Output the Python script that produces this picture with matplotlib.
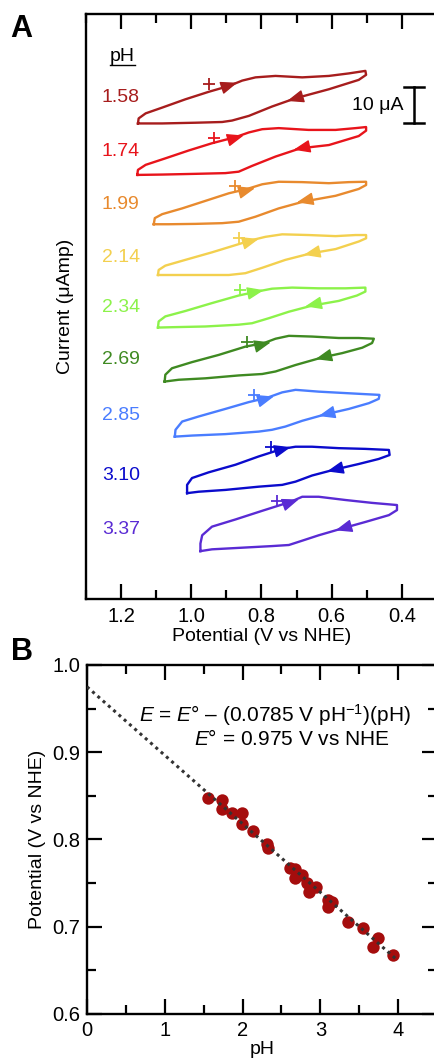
import matplotlib.pyplot as plt
import numpy as np
from matplotlib.ticker import MultipleLocator, FormatStrFormatter

plt.rcParams['font.family'] = ['Liberation Sans', 'DejaVu Sans']
plt.rcParams['mathtext.fontset'] = 'custom'
plt.rcParams['mathtext.rm'] = 'Liberation Sans'
plt.rcParams['mathtext.it'] = 'Liberation Sans:italic'

# ---- panel A: cyclic voltammograms ----
# potential (V vs NHE) and current (uA) measured from the lower-left corner of each loop
ph_values = ['1.58', '1.74', '1.99', '2.14', '2.34', '2.69', '2.85', '3.10', '3.37']
cv_colors = ['#a71d1d', '#e8141b', '#e88a2e', '#f3d04f', '#8cf24a',
             '#3f8a22', '#4a7dff', '#0b0bcc', '#5a2bd4']
cv_offsets = [132.1, 117.8, 104.1, 90.0, 75.4, 60.4, 45.1, 29.4, 13.3]
label_currents = [139.4, 124.2, 109.7, 95.0, 81.1, 66.4, 51.1, 34.4, 19.2]

e_158 = [1.152, 1.150, 1.130, 1.083, 1.017, 0.950, 0.893, 0.855, 0.817, 0.760, 0.684, 0.608, 0.551, 0.504,
         0.502, 0.523, 0.608, 0.703, 0.770, 0.836, 0.884, 0.912, 0.988, 1.083, 1.152]
i_158 = [0.0, 1.4, 2.8, 4.4, 6.7, 8.8, 10.4, 11.9, 12.8, 13.2, 12.8, 13.2, 13.9, 14.6,
         13.5, 12.1, 9.5, 7.0, 4.7, 2.1, 0.8, 0.4, 0.2, 0.0, 0.0]
e_174 = [1.154, 1.152, 1.130, 1.074, 1.007, 0.941, 0.874, 0.836, 0.798, 0.751, 0.666, 0.589, 0.532, 0.502,
         0.502, 0.523, 0.608, 0.689, 0.760, 0.827, 0.865, 0.903, 0.988, 1.083, 1.154]
i_174 = [0.0, 1.4, 2.8, 4.6, 6.8, 8.8, 10.5, 11.8, 12.7, 13.0, 12.5, 12.5, 13.0, 13.3,
         12.3, 10.8, 8.3, 7.4, 5.1, 2.5, 0.9, 0.5, 0.3, 0.1, 0.0]
e_199 = [1.107, 1.104, 1.083, 1.026, 0.950, 0.893, 0.841, 0.798, 0.751, 0.684, 0.608, 0.551, 0.502,
         0.502, 0.523, 0.589, 0.680, 0.751, 0.817, 0.865, 0.912, 0.988, 1.064, 1.107]
i_199 = [0.0, 1.7, 2.8, 4.4, 6.8, 8.6, 9.8, 11.1, 11.8, 11.7, 11.4, 11.7, 11.8,
         10.9, 9.8, 7.9, 6.3, 4.4, 2.1, 0.7, 0.3, 0.1, 0.0, 0.0]
e_214 = [1.095, 1.093, 1.074, 1.017, 0.941, 0.874, 0.827, 0.789, 0.741, 0.665, 0.589, 0.532, 0.502,
         0.502, 0.523, 0.589, 0.660, 0.732, 0.798, 0.846, 0.893, 0.988, 1.095]
i_214 = [0.0, 1.4, 2.6, 4.2, 6.3, 8.3, 9.7, 10.6, 11.3, 11.1, 10.8, 11.1, 11.1,
         10.2, 9.3, 7.2, 6.0, 4.2, 2.0, 0.5, 0.0, 0.0, 0.0]
e_234 = [1.095, 1.093, 1.074, 1.017, 0.941, 0.865, 0.813, 0.770, 0.713, 0.637, 0.561, 0.504,
         0.504, 0.528, 0.580, 0.656, 0.722, 0.779, 0.827, 0.865, 0.960, 1.055, 1.095]
i_234 = [0.0, 1.7, 3.1, 4.6, 6.8, 8.9, 10.0, 10.8, 11.1, 10.9, 10.9, 11.1,
         10.0, 8.9, 7.4, 6.1, 4.4, 2.6, 1.2, 0.8, 0.3, 0.1, 0.0]
e_269 = [1.076, 1.074, 1.055, 0.998, 0.922, 0.846, 0.793, 0.760, 0.722, 0.656, 0.580, 0.523, 0.480,
         0.485, 0.513, 0.570, 0.627, 0.703, 0.760, 0.798, 0.865, 0.960, 1.036, 1.076]
i_269 = [0.0, 1.9, 3.7, 5.4, 7.4, 9.7, 10.7, 11.9, 12.7, 12.5, 12.1, 12.1, 11.9,
         10.7, 9.4, 7.9, 6.7, 4.6, 2.8, 2.1, 1.7, 0.9, 0.5, 0.0]
e_285 = [1.047, 1.045, 1.026, 0.979, 0.903, 0.836, 0.784, 0.741, 0.703, 0.637, 0.561, 0.504, 0.464,
         0.466, 0.494, 0.551, 0.618, 0.684, 0.732, 0.770, 0.808, 0.903, 0.998, 1.047]
i_285 = [0.0, 1.9, 4.2, 5.6, 7.7, 9.6, 10.8, 12.3, 13.0, 12.5, 12.1, 11.8, 11.6,
         10.5, 9.3, 7.7, 6.2, 4.4, 2.8, 1.9, 1.4, 0.7, 0.3, 0.0]
e_310 = [1.012, 1.012, 0.998, 0.950, 0.874, 0.808, 0.741, 0.703, 0.656, 0.580, 0.504, 0.437,
         0.435, 0.466, 0.523, 0.594, 0.656, 0.703, 0.741, 0.808, 0.903, 0.979, 1.012]
i_310 = [0.0, 2.3, 4.2, 5.8, 7.9, 10.2, 12.3, 12.9, 12.9, 12.5, 12.3, 12.0,
         10.6, 9.5, 8.1, 6.5, 4.9, 3.2, 2.3, 1.8, 0.9, 0.4, 0.0]
e_337 = [0.974, 0.974, 0.969, 0.941, 0.874, 0.798, 0.717, 0.684, 0.637, 0.561, 0.485, 0.414,
         0.414, 0.437, 0.504, 0.570, 0.637, 0.684, 0.722, 0.770, 0.846, 0.941, 0.974]
i_337 = [0.0, 2.1, 4.4, 6.8, 8.8, 11.2, 13.7, 15.1, 15.1, 14.2, 13.4, 12.8,
         11.4, 10.0, 8.1, 6.3, 4.4, 2.9, 1.7, 1.4, 1.0, 0.5, 0.0]

# "+" marks and scan-direction arrows (potential, relative current)
plus_e = [0.950, 0.936, 0.876, 0.865, 0.860, 0.841, 0.822, 0.774, 0.756]
plus_i = [11.0, 10.2, 10.7, 10.4, 10.5, 11.1, 11.6, 12.9, 14.0]
fwd_e = [0.888, 0.870, 0.838, 0.827, 0.813, 0.793, 0.784, 0.736, 0.713]
fwd_i = [10.7, 10.4, 9.5, 9.5, 10.0, 10.4, 10.6, 12.3, 13.7]
rev_e = [0.708, 0.689, 0.680, 0.660, 0.656, 0.627, 0.618, 0.594, 0.570]
rev_i = [6.8, 7.4, 6.5, 6.0, 6.3, 6.7, 6.2, 6.5, 6.3]

# ---- panel B: peak potential vs pH ----
ph_pts = [1.56, 1.73, 1.73, 1.86, 1.99, 1.99, 2.13, 2.31, 2.33, 2.61, 2.68, 2.68,
          2.76, 2.83, 2.85, 2.95, 3.10, 3.15, 3.10, 3.36, 3.55, 3.74, 3.68, 3.94]
e_pts = [0.848, 0.845, 0.835, 0.830, 0.830, 0.818, 0.810, 0.795, 0.790, 0.767, 0.766, 0.756,
         0.759, 0.750, 0.740, 0.746, 0.731, 0.728, 0.723, 0.706, 0.699, 0.687, 0.677, 0.668]
fit_ph = [0.0, 4.0]
fit_e = [0.975, 0.661]

cv_e = [e_158, e_174, e_199, e_214, e_234, e_269, e_285, e_310, e_337]
cv_i = [i_158, i_174, i_199, i_214, i_234, i_269, i_285, i_310, i_337]


def add_arrow(ax, e, i, pe, pi, color):
    # arrow head centred at (pe, pi), pointing along the scan direction of the loop
    pts = ax.transData.transform(np.column_stack([e, i]))
    p = ax.transData.transform((pe, pi))
    k = np.argmin(np.hypot(*(pts - p).T))
    d = pts[min(k + 1, len(e) - 1)] - pts[max(k - 1, 0)]
    d = d / np.hypot(*d)
    inv = ax.transData.inverted()
    ax.annotate('', xy=inv.transform(p + 7 * d), xytext=inv.transform(p - 5 * d),
                arrowprops=dict(arrowstyle='-|>,head_length=0.85,head_width=0.33',
                                color=color, lw=1.0, shrinkA=0, shrinkB=0,
                                mutation_scale=12))


fig = plt.figure(figsize=(4.35, 10.61), dpi=100)

# panel A
ax1 = fig.add_axes([86 / 435, 462 / 1061, 351 / 435, 585 / 1061])
ax1.set_xlim(1.3, 0.3)
ax1.set_ylim(0, 162.5)
for k in range(len(ph_values)):
    c = cv_colors[k]
    off = cv_offsets[k]
    ii = np.array(cv_i[k]) + off
    ax1.plot(cv_e[k], ii, color=c, lw=1.7, solid_joinstyle='round')
    ax1.plot(plus_e[k], plus_i[k] + off, marker='+', color=c, ms=8, mew=1.3)
    add_arrow(ax1, cv_e[k], ii, fwd_e[k], fwd_i[k] + off, c)
    add_arrow(ax1, cv_e[k], ii, rev_e[k], rev_i[k] + off, c)
    ax1.text(1.255, label_currents[k], ph_values[k], color=c, fontsize=14,
             ha='left', va='center')

ax1.text(1.197, 150.6, 'pH', fontsize=14, ha='center', va='center')
ax1.plot([1.232, 1.160], [148.2, 148.2], color='black', lw=1.0)

# 10 uA scale bar
ax1.plot([0.366, 0.366], [132.2, 142.2], color='black', lw=1.8)
ax1.plot([0.394, 0.337], [132.2, 132.2], color='black', lw=1.8)
ax1.plot([0.394, 0.337], [142.2, 142.2], color='black', lw=1.8)
ax1.text(0.395, 137.2, '10 \u03bcA', fontsize=14, ha='right', va='center')

ax1.xaxis.set_major_locator(MultipleLocator(0.2))
ax1.xaxis.set_minor_locator(MultipleLocator(0.1))
ax1.xaxis.set_major_formatter(FormatStrFormatter('%.1f'))
ax1.set_yticks([])
ax1.tick_params(axis='x', which='both', direction='in', top=True, width=1.6,
                labelsize=14.5, pad=6)
ax1.tick_params(axis='x', which='major', length=11)
ax1.tick_params(axis='x', which='minor', length=6.5)
for s in ax1.spines.values():
    s.set_linewidth(1.7)
ax1.set_xlabel('Potential (V vs NHE)', fontsize=14, labelpad=1)
ax1.set_ylabel('Current (\u03bcAmp)', fontsize=14)
ax1.yaxis.set_label_coords(-0.035, 0.5)

# panel B
ax2 = fig.add_axes([87 / 435, 47 / 1061, 350 / 435, 349 / 1061])
ax2.set_xlim(0, 4.5)
ax2.set_ylim(0.6, 1.0)
ax2.scatter(ph_pts, e_pts, s=80, color='#a50d0d', zorder=2, linewidths=0)
ax2.plot(fit_ph, fit_e, color='#333333', lw=2.2, linestyle=(0, (1, 1.3)),
         dash_capstyle='butt', zorder=3)
ax2.text(2.42, 0.943, r'$E$ = $E$° – (0.0785 V pH$^{-1}$)(pH)', fontsize=15,
         ha='center', va='center')
ax2.text(2.64, 0.915, r'$E$° = 0.975 V vs NHE', fontsize=15,
         ha='center', va='center')

ax2.xaxis.set_major_locator(MultipleLocator(1))
ax2.xaxis.set_minor_locator(MultipleLocator(0.5))
ax2.yaxis.set_major_locator(MultipleLocator(0.1))
ax2.yaxis.set_minor_locator(MultipleLocator(0.05))
ax2.yaxis.set_major_formatter(FormatStrFormatter('%.1f'))
ax2.tick_params(which='both', direction='in', top=True, right=True, width=1.6,
                labelsize=14.5, pad=5)
ax2.tick_params(which='major', length=11)
ax2.tick_params(which='minor', length=6.5)
for s in ax2.spines.values():
    s.set_linewidth(1.7)
ax2.set_xlabel('pH', fontsize=14, labelpad=1)
ax2.set_ylabel('Potential (V vs NHE)', fontsize=14, labelpad=4)

fig.text(21 / 435, 1 - 29 / 1061, 'A', fontsize=22, weight='bold', ha='center', va='center')
fig.text(22 / 435, 1 - 652 / 1061, 'B', fontsize=22, weight='bold', ha='center', va='center')

fig.savefig('out.png', dpi=100)
